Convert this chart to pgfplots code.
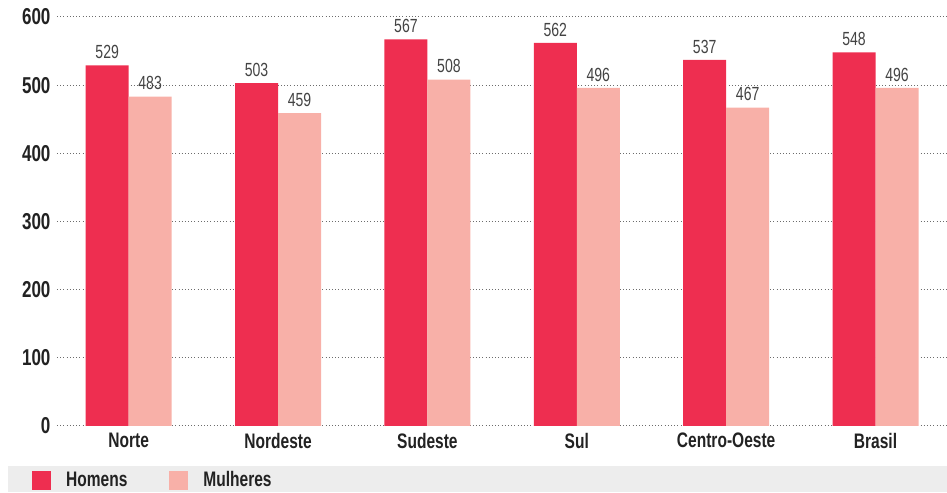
\documentclass[border=0pt]{standalone}
\usepackage{fontspec}
\setmainfont{Liberation Sans}[FakeStretch=0.74]
\usepackage{pgfplots}
\pgfplotsset{compat=1.18}
\definecolor{homens}{HTML}{EE2E50}
\definecolor{mulheres}{HTML}{F8B0A8}
\definecolor{band}{HTML}{EDEDED}
\definecolor{txt}{HTML}{222222}

\begin{document}
\begin{tikzpicture}
\fill[band] (-49pt,-66pt) rectangle (890pt,-40pt);
\begin{axis}[
  scale only axis,
  width=890pt, height=409pt,
  ybar=0pt, bar width=43pt,
  xmin=-0.48, xmax=5.475,
  ymin=0, ymax=600,
  ytick={0,100,...,600},
  xtick=data,
  xticklabels={Norte,Nordeste,Sudeste,Sul,Centro-Oeste,Brasil},
  axis line style={draw=none},
  ymajorgrids,
  major grid style={dash pattern=on 1pt off 2.2pt, gray!85!black, line width=1pt},
  major tick length=0pt,
  /pgf/number format/assume math mode=true,
  yticklabel style={font=\bfseries\fontsize{23}{23}\selectfont, text=txt, xshift=-3pt},
  xticklabel style={font=\bfseries\fontsize{21}{21}\selectfont, text=txt, yshift=-4pt},
  nodes near coords,
  every node near coord/.append style={font=\fontsize{19}{19}\selectfont, text=txt!85, yshift=3pt},
  legend style={at={(rel axis cs:0,0)}, anchor=west, xshift=-28pt, yshift=-54pt,
    draw=none, fill=none, legend columns=2,
    font=\bfseries\fontsize{21}{21}\selectfont, text=txt,
    /tikz/every even column/.append style={column sep=40pt}},
  legend image code/.code={\fill[#1] (0pt,-10pt) rectangle (19pt,9pt);},
  legend cell align=left,
]
\addplot[fill=homens, draw=none] coordinates {(0,529) (1,503) (2,567) (3,562) (4,537) (5,548)};
\addplot[fill=mulheres, draw=none] coordinates {(0,483) (1,459) (2,508) (3,496) (4,467) (5,496)};
\legend{\hspace*{13pt}Homens,\hspace*{13pt}Mulheres}
\end{axis}
\useasboundingbox (-57pt,-66pt) rectangle (890pt,426pt);
\end{tikzpicture}
\end{document}
